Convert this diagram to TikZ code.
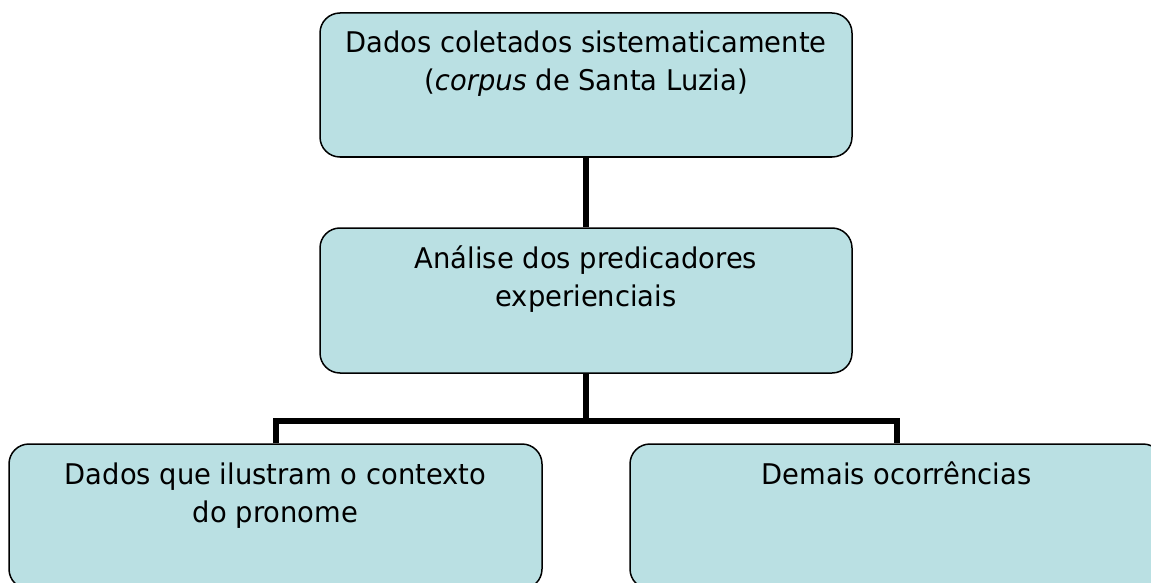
\documentclass[tikz,border=0pt]{standalone}
\usepackage{fontspec}
\setmainfont[FakeStretch=0.96]{DejaVu Sans}
\definecolor{boxfill}{RGB}{186,224,227}
\begin{document}
\begin{tikzpicture}[x=1pt,y=-1pt,
  box/.style={draw=black, line width=1.5pt, fill=boxfill, rounded corners=20pt, inner sep=0pt},
  lbl/.style={font=\fontsize{28.5}{38}\selectfont, align=center, anchor=base, inner sep=0pt},
  conn/.style={line width=6pt, line join=miter}]
\useasboundingbox (0,0) rectangle (1151,583);
\clip (0,0) rectangle (1151,583);
\node[box, minimum width=532pt, minimum height=144pt] (top) at (586,85) {};
\node[box, minimum width=532pt, minimum height=145pt] (mid) at (586,300.5) {};
\node[box, minimum width=533pt, minimum height=145pt] (left) at (275.5,516.5) {};
\node[box, minimum width=533pt, minimum height=145pt] (right) at (896.5,516.5) {};
\coordinate (hj) at (586,421);
\draw[conn] (top.south) -- (mid.north);
\draw[conn] (mid.south) -- (hj);
\draw[conn] (left.north) |- (hj) -| (right.north);
\node[lbl] (ttop) at (586,91) {Dados coletados sistematicamente\\(\textit{corpus} de Santa Luzia)};
\node[lbl] (tmid) at (586,306) {Análise dos predicadores\\experienciais};
\node[lbl] (tleft) at (275.5,522) {Dados que ilustram o contexto\\do pronome};
\node[lbl] (tright) at (896.5,484) {Demais ocorrências};
\end{tikzpicture}
\end{document}
